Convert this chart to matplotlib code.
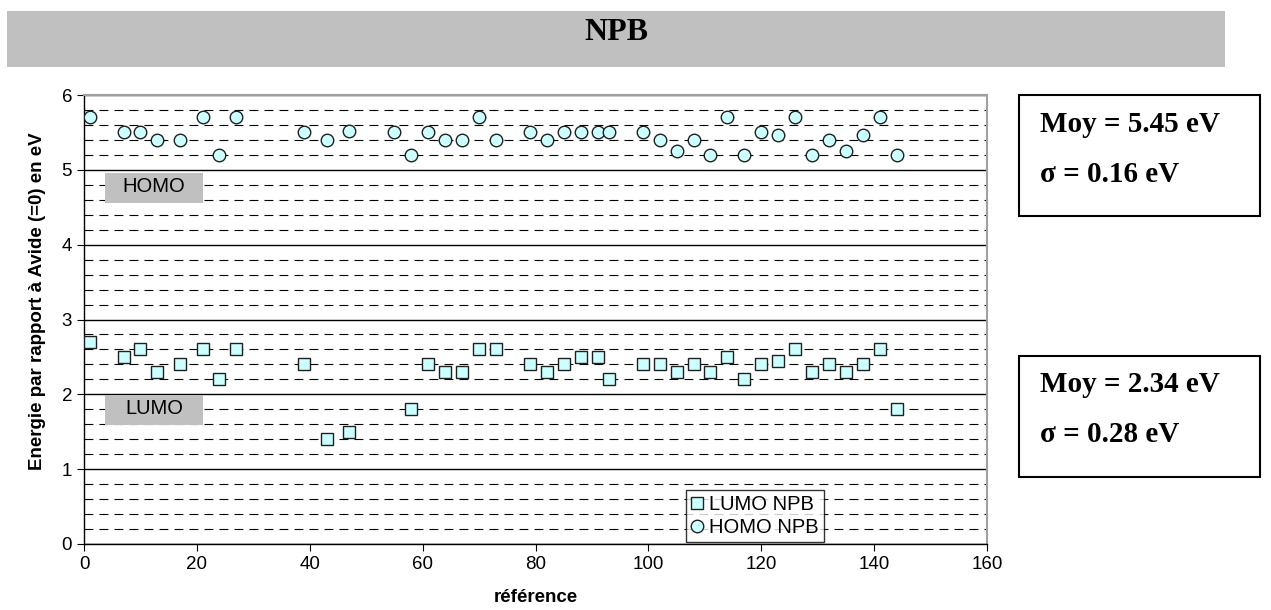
import matplotlib
matplotlib.use("Agg")
from matplotlib import pyplot as plt
from matplotlib.patches import Rectangle
from matplotlib.ticker import MultipleLocator

# reference number vs energy level (eV)
homo_x = [1, 7, 10, 13, 17, 21, 24, 27, 39, 43, 47, 55, 58, 61, 64, 67, 70, 73,
          79, 82, 85, 88, 91, 93, 99, 102, 105, 108, 111, 114, 117, 120, 123,
          126, 129, 132, 135, 138, 141, 144]
homo_y = [5.7, 5.5, 5.5, 5.4, 5.4, 5.7, 5.2, 5.7, 5.5, 5.4, 5.52, 5.5, 5.2, 5.5,
          5.4, 5.4, 5.7, 5.4, 5.5, 5.4, 5.5, 5.5, 5.5, 5.5, 5.5, 5.4, 5.25, 5.4,
          5.2, 5.7, 5.2, 5.5, 5.47, 5.7, 5.2, 5.4, 5.25, 5.47, 5.7, 5.2]
lumo_x = [1, 7, 10, 13, 17, 21, 24, 27, 39, 43, 47, 58, 61, 64, 67, 70, 73,
          79, 82, 85, 88, 91, 93, 99, 102, 105, 108, 111, 114, 117, 120, 123,
          126, 129, 132, 135, 138, 141, 144]
lumo_y = [2.7, 2.5, 2.6, 2.3, 2.4, 2.6, 2.2, 2.6, 2.4, 1.4, 1.5, 1.8, 2.4, 2.3,
          2.3, 2.6, 2.6, 2.4, 2.3, 2.4, 2.5, 2.5, 2.2, 2.4, 2.4, 2.3, 2.4, 2.3,
          2.5, 2.2, 2.4, 2.45, 2.6, 2.3, 2.4, 2.3, 2.4, 2.6, 1.8]

stats_homo = ["Moy = 5.45 eV", "σ = 0.16 eV"]
stats_lumo = ["Moy = 2.34 eV", "σ = 0.28 eV"]

plt.rcParams["font.family"] = ["Liberation Sans", "DejaVu Sans"]
serif = ["Liberation Serif", "DejaVu Serif"]
fill = "#ccffff"
grey = "#c0c0c0"

fig = plt.figure(figsize=(12.71, 6.10), dpi=100)
ax = fig.add_axes([84 / 1271, 66 / 610, 903 / 1271, 449 / 610])

# title banner
fig.patches.append(Rectangle((7 / 1271, 543 / 610), 1218 / 1271, 56 / 610,
                             transform=fig.transFigure, facecolor=grey,
                             edgecolor="none"))
fig.text(616 / 1271, 578 / 610, "NPB", family=serif, fontweight="bold",
         fontsize=23, ha="center", va="center")

ax.plot(lumo_x, lumo_y, "s", ms=9, mfc=fill, mec="#202020", mew=1,
        label="LUMO NPB", zorder=4)
ax.plot(homo_x, homo_y, "o", ms=9, mfc=fill, mec="#202020", mew=1,
        label="HOMO NPB", zorder=4)

ax.set_xlim(0, 160)
ax.set_ylim(0, 6)
ax.xaxis.set_major_locator(MultipleLocator(20))
ax.yaxis.set_major_locator(MultipleLocator(1))
ax.yaxis.set_minor_locator(MultipleLocator(0.2))
ax.grid(axis="y", which="major", color="black", lw=1, zorder=1)
ax.grid(axis="y", which="minor", color="black", lw=0.8,
        linestyle=(0, (8, 5.5)), zorder=1)
ax.tick_params(axis="both", which="major", labelsize=13.5, length=5,
               color="black")
ax.tick_params(axis="y", which="minor", length=0)
for side in ["left", "bottom"]:
    ax.spines[side].set_color("black")
    ax.spines[side].set_linewidth(1)
for side in ["top", "right"]:
    ax.spines[side].set_color("#a0a0a0")
    ax.spines[side].set_linewidth(1.5)

ax.set_xlabel("référence", fontweight="bold", fontsize=13.5)
ax.xaxis.set_label_coords(0.5, -0.1)
ax.set_ylabel("Energie par rapport à Avide (=0) en eV", fontweight="bold",
              fontsize=13.5)
ax.yaxis.set_label_coords(-0.042, 0.54)

# HOMO / LUMO tags
for label, top in [("HOMO", 4.96), ("LUMO", 1.99)]:
    ax.add_patch(Rectangle((3.7, top - 0.4), 17.4, 0.4, facecolor=grey,
                           edgecolor="none", zorder=3))
    ax.text(12.4, top - 0.18, label, fontsize=14.5, ha="center", va="center",
            zorder=4)

leg = ax.legend(loc="lower left", bbox_to_anchor=(0.667, 0.004), fontsize=14.5,
                frameon=True, fancybox=False, edgecolor="black",
                handlelength=0.6, handletextpad=0.3, borderpad=0.25,
                labelspacing=0.2, borderaxespad=0)
leg.get_frame().set_linewidth(1)
leg.set_zorder(5)

# stats boxes
for lines, top in [(stats_homo, 95), (stats_lumo, 356)]:
    fig.patches.append(Rectangle((1019 / 1271, (610 - top - 121) / 610),
                                 241 / 1271, 121 / 610,
                                 transform=fig.transFigure, facecolor="white",
                                 edgecolor="black", lw=1.5))
    fig.text(1040 / 1271, (610 - top - 29) / 610, lines[0], family=serif,
             fontweight="bold", fontsize=21, va="center")
    fig.text(1040 / 1271, (610 - top - 79) / 610, lines[1], family=serif,
             fontweight="bold", fontsize=21, va="center")

plt.savefig("out.png", dpi=100)
